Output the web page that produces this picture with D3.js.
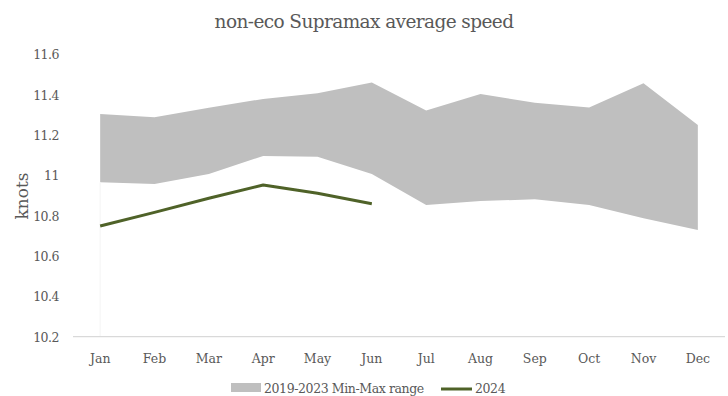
<!DOCTYPE html>
<html><head><meta charset="utf-8">
<script src="https://cdn.jsdelivr.net/npm/d3@7"></script>
<style>
html,body{margin:0;padding:0;background:#fff;}
svg{display:block;}
text{font-family:"DejaVu Serif",serif;fill:#595959;}
</style></head>
<body>
<svg id="chart" width="728" height="396"></svg>
<script>
const months = ["Jan","Feb","Mar","Apr","May","Jun","Jul","Aug","Sep","Oct","Nov","Dec"];
const rangeMin = [10.966,10.958,11.007,11.097,11.093,11.007,10.854,10.873,10.882,10.854,10.788,10.730];
const rangeMax = [11.305,11.289,11.336,11.380,11.408,11.461,11.322,11.404,11.361,11.338,11.458,11.251];
const y2024 = [10.749,10.817,10.887,10.953,10.912,10.860];
const yTicks = [10.2,10.4,10.6,10.8,11,11.2,11.4,11.6];
const titleText = "non-eco Supramax average speed";
const yTitle = "knots";
const legendRange = "2019-2023 Min-Max range";
const legendLine = "2024";

const svg = d3.select("#chart");
const plotL = 73, plotR = 725, plotT = 54.6, plotB = 336.7;

const x = d3.scaleBand().domain(months).range([plotL, plotR]);
const y = d3.scaleLinear().domain([10.2, 11.6]).range([plotB, plotT]);
const cx = m => x(m) + x.bandwidth() / 2;

// area
const area = d3.area()
  .x((d, i) => cx(months[i]))
  .y0((d, i) => y(rangeMin[i]))
  .y1((d, i) => y(rangeMax[i]));
svg.append("path").datum(months).attr("d", area).attr("fill", "#bfbfbf");

// faint edge line (Excel artefact)
svg.append("line").attr("x1", cx(months[0])).attr("x2", cx(months[0]))
  .attr("y1", y(rangeMin[0])).attr("y2", plotB)
  .attr("stroke", "#f4f4f4").attr("stroke-width", 1);

// x axis line
svg.append("line").attr("x1", plotL).attr("x2", plotR).attr("y1", plotB).attr("y2", plotB)
  .attr("stroke", "#d9d9d9").attr("stroke-width", 1.2);

// y axis
const yAxis = d3.axisLeft(y).tickValues(yTicks).tickSize(0).tickPadding(0)
  .tickFormat(d => String(+d.toFixed(1)));
const gy = svg.append("g").attr("transform", `translate(59,0)`).call(yAxis);
gy.select(".domain").remove();
gy.selectAll("text").attr("font-size", 12.5).attr("fill", "#595959")
  .attr("font-family", "DejaVu Serif").attr("dy", "0.35em").attr("letter-spacing", "-0.5");

// x axis
const xAxis = d3.axisBottom(x).tickSize(0).tickPadding(0);
const gx = svg.append("g").attr("transform", `translate(0,${plotB})`).call(xAxis);
gx.select(".domain").remove();
gx.selectAll("text").attr("font-size", 12.5).attr("fill", "#595959")
  .attr("font-family", "DejaVu Serif").attr("y", 22).attr("dy", "0.35em");

// line 2024
const line = d3.line().x((d, i) => cx(months[i])).y(d => y(d));
svg.append("path").datum(y2024).attr("d", line).attr("fill", "none")
  .attr("stroke", "#4f6228").attr("stroke-width", 3).attr("stroke-linejoin", "round");

// title
svg.append("text").attr("x", 364).attr("y", 22).attr("text-anchor", "middle")
  .attr("dy", "0.35em").attr("font-size", 18.5).attr("letter-spacing", "-0.6").text(titleText);

// y title
svg.append("text").attr("transform", `translate(22,196) rotate(-90)`)
  .attr("text-anchor", "middle").attr("dy", "0.35em").attr("font-size", 17).text(yTitle);

// legend
const lg = svg.append("g");
lg.append("rect").attr("x", 231).attr("y", 383).attr("width", 30).attr("height", 9).attr("fill", "#bfbfbf");
lg.append("text").attr("x", 264).attr("y", 389).attr("dy", "0.35em").attr("font-size", 12.5)
  .attr("letter-spacing", "-0.4").text(legendRange);
lg.append("line").attr("x1", 441).attr("x2", 472).attr("y1", 389).attr("y2", 389)
  .attr("stroke", "#4f6228").attr("stroke-width", 3);
lg.append("text").attr("x", 475).attr("y", 389).attr("dy", "0.35em").attr("font-size", 12.5)
  .attr("letter-spacing", "-0.4").text(legendLine);
</script>
</body></html>
